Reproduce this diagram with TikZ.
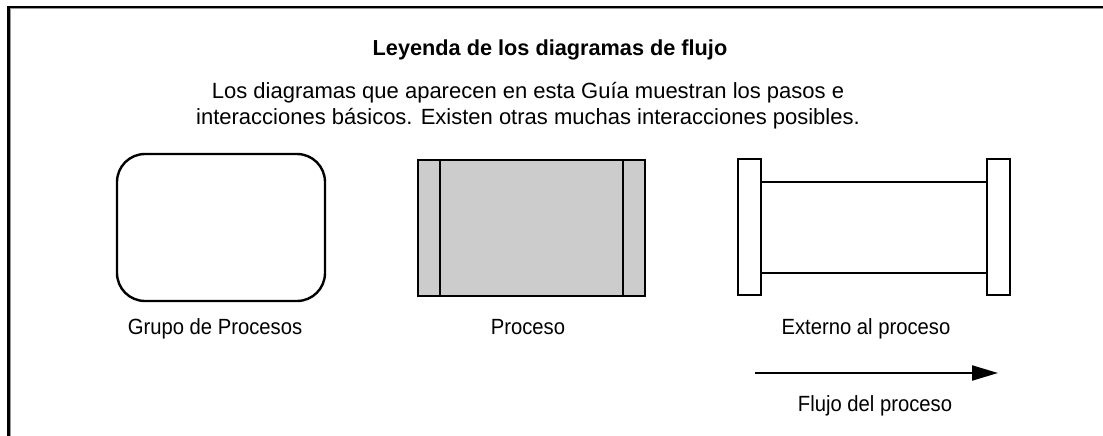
\documentclass[tikz,border=0pt]{standalone}
\usepackage{fontspec}
\setmainfont{Liberation Sans}
\newfontfamily\lblfont[FakeStretch=0.92]{Liberation Sans}
\usetikzlibrary{arrows.meta}
\tikzset{
  frameline/.style={line width=2.4pt, black},
  frameshade/.style={line width=1.2pt, black!40},
  grpbox/.style={draw, line width=2.4pt, rounded corners=28pt, minimum width=208pt, minimum height=147pt, inner sep=0pt},
  procbox/.style={draw, line width=2pt, fill=black!20, minimum width=227pt, minimum height=136pt, inner sep=0pt},
  endbox/.style={draw, line width=2pt, fill=white, minimum width=23pt, minimum height=136pt, inner sep=0pt},
  thinline/.style={line width=2pt},
  lbl/.style={font=\lblfont\fontsize{22pt}{26pt}\selectfont, inner sep=0pt, anchor=base},
  ttl/.style={font=\fontsize{21.7pt}{26pt}\selectfont\bfseries, inner sep=0pt, anchor=base},
  body/.style={font=\fontsize{22pt}{26pt}\selectfont, inner sep=0pt, align=center, anchor=north},
  flow/.style={line width=2.2pt, -{Triangle[length=26pt, width=15pt]}}
}
\begin{document}
\begin{tikzpicture}[x=1pt, y=-1pt]
\useasboundingbox (0,0) rectangle (1103,436);
% frame
\coordinate (fa) at (8.3,436);
\coordinate (fb) at (8.3,7);
\coordinate (fc) at (1103,7);
\draw[frameshade] (9.9,436) -- (9.9,8.6) -- (1103,8.6);
\draw[frameline] (fa) -- (fb) -- (fc);
% title and text
\node[ttl] (title) at (550,56) {Leyenda de los diagramas de flujo};
\node[body] (intro) at (528,82) {Los diagramas que aparecen en esta Guía muestran los pasos e\\interacciones básicos. Existen otras muchas interacciones posibles.};
% group
\node[grpbox] (grp) at (221,227.5) {};
\node[lbl] (grplbl) at (215,334) {Grupo de Procesos};
% process
\node[procbox] (proc) at (531.5,228) {};
\draw[thinline] ([xshift=23pt]proc.north west) -- ([xshift=23pt]proc.south west);
\draw[thinline] ([xshift=-23pt]proc.north east) -- ([xshift=-23pt]proc.south east);
\node[lbl] (proclbl) at (528,334) {Proceso};
% external
\node[endbox] (extl) at (749.5,227) {};
\node[endbox] (extr) at (998,227) {};
\draw[thinline] (extl.east |- 0,182) -- (extr.west |- 0,182);
\draw[thinline] (extl.east |- 0,273) -- (extr.west |- 0,273);
\node[lbl] (extlbl) at (866,334) {Externo al proceso};
% flow arrow
\coordinate (fs) at (755,373);
\coordinate (fe) at (998,373);
\draw[flow] (fs) -- (fe);
\node[lbl] (flowlbl) at (875,411) {Flujo del proceso};
\end{tikzpicture}
\end{document}
